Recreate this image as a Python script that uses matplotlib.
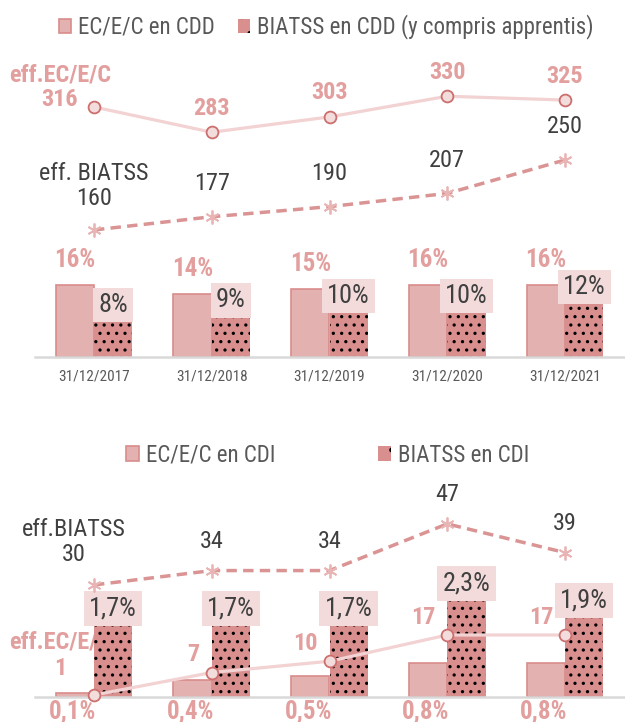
import numpy as np
import matplotlib
matplotlib.use("Agg")
import matplotlib.pyplot as plt
from matplotlib.patches import Patch
from matplotlib import font_manager as fm

# ---------------- data ----------------
dates = ["31/12/2017", "31/12/2018", "31/12/2019", "31/12/2020", "31/12/2021"]

cdd_ec_pct = [16, 14, 15, 16, 16]
cdd_bi_pct = [8, 9, 10, 10, 12]
cdd_ec_eff = [316, 283, 303, 330, 325]
cdd_bi_eff = [160, 177, 190, 207, 250]

cdi_ec_pct = [0.1, 0.4, 0.5, 0.8, 0.8]
cdi_bi_pct = [1.7, 1.7, 1.7, 2.3, 1.9]
cdi_ec_eff = [1, 7, 10, 17, 17]
cdi_bi_eff = [30, 34, 34, 47, 39]

# ---------------- style ----------------
names = {f.name for f in fm.fontManager.ttflist}
PREF = ["Liberation Sans Narrow", "Arial Narrow", "Roboto Condensed",
        "Archivo Narrow", "Liberation Sans", "DejaVu Sans"]
FAM = [f for f in PREF if f in names] or ["DejaVu Sans"]
plt.rcParams["font.family"] = FAM
plt.rcParams["hatch.linewidth"] = 1.15

EC_FILL = "#E3B1B0"
EC_EDGE = "#D98C8B"
BI_FILL = "#D98F8E"
BOX = "#F3DBDB"
PINK_TXT = "#E29F9E"
DARK = "#404040"
TICK = "#595959"
LINE_EC = "#F2D2D2"
MK_EDGE = "#CC6F6E"
MK_FILL = "#F3DCDC"
LINE_BI = "#DA9493"
AST = "#E8B5B4"
GRID = "#D9D9D9"

W = 0.325
x = np.arange(len(dates))

fig = plt.figure(figsize=(6.25, 7.22), dpi=100)


def panel(rect, ylim_bar, ylim_ec, ylim_bi, ec_pct, bi_pct, ec_eff, bi_eff,
          pct_fmt, top_chart):
    ax = fig.add_axes(rect)
    ax_ec = ax.twinx()
    ax_bi = ax.twinx()
    for a in (ax, ax_ec, ax_bi):
        for s in a.spines.values():
            s.set_visible(False)
        a.set_yticks([])
        a.patch.set_visible(False)
        a.set_xlim(-0.5, 4.5)
    ax.spines["bottom"].set_visible(True)
    ax.spines["bottom"].set_color(GRID)
    ax.spines["bottom"].set_linewidth(1.8)
    ax.set_ylim(*ylim_bar)
    ax_ec.set_ylim(*ylim_ec)
    ax_bi.set_ylim(*ylim_bi)

    # bars
    ax.bar(x - W / 2, ec_pct, W, color=EC_FILL, edgecolor=EC_EDGE,
           linewidth=1.2, zorder=2)
    ax.bar(x + W / 2, bi_pct, W, color=BI_FILL, edgecolor="none", zorder=2)
    ax.bar(x + W / 2, bi_pct, W, color="none", edgecolor="black",
           linewidth=0, hatch="..", zorder=2.1)

    # x ticks
    if top_chart:
        ax.set_xticks(x, dates, fontsize=11, color=TICK)
        ax.tick_params(axis="x", length=0, pad=9)
    else:
        ax.set_xticks([])

    # labels for bars
    for i in range(len(x)):
        ax.annotate(pct_fmt(bi_pct[i]), xy=(x[i] + W / 2, bi_pct[i]),
                    xytext=(0, 4), textcoords="offset pixels",
                    ha="center", va="bottom", fontsize=19, color=DARK,
                    bbox=dict(boxstyle="square,pad=0.2", fc=BOX, ec="none"),
                    zorder=3)
        if top_chart:
            ax.annotate(pct_fmt(ec_pct[i]), xy=(x[i] - W / 2, ec_pct[i]),
                        xytext=(0, 25), textcoords="offset pixels",
                        ha="center", va="center", fontsize=18,
                        fontweight="bold", color=PINK_TXT, zorder=3)
        else:
            ax.annotate(pct_fmt(ec_pct[i]), xy=(x[i] - W / 2, 0),
                        xytext=(-2, -14), textcoords="offset pixels",
                        ha="center", va="center", fontsize=18,
                        fontweight="bold", color=PINK_TXT,
                        annotation_clip=False, zorder=3)

    # lines
    ax_ec.plot(x, ec_eff, color=LINE_EC, lw=2.3, marker="o", ms=8.5,
               mfc=MK_FILL, mec=MK_EDGE, mew=1.3, clip_on=False, zorder=4)
    ax_bi.plot(x, bi_eff, color=LINE_BI, lw=2.5, dashes=(3, 1.8),
               marker=(6, 2, 0), ms=10, mec=AST, mew=1.3, clip_on=False,
               zorder=4)
    return ax, ax_ec, ax_bi


# ---------- top panel (CDD) ----------
top_rect = [35.1 / 625, 365 / 722, 588.8 / 625, 317 / 722]
ax, ax_ec, ax_bi = panel(top_rect, (0, 70.4), (-10.4, 403.4), (-3.3, 404.2),
                         cdd_ec_pct, cdd_bi_pct, cdd_ec_eff, cdd_bi_eff,
                         lambda v: f"{v:.0f}%", True)
for i in range(len(x)):
    if i == 0:
        txt, off = f"eff.EC/E/C\n{cdd_ec_eff[i]}", (-34, 20)
    else:
        txt, off = f"{cdd_ec_eff[i]}", (0, 24)
    ax.annotate(txt, xy=(x[i], cdd_ec_eff[i]), xycoords=ax_ec.transData,
                xytext=off, textcoords="offset pixels", ha="center",
                va="center", fontsize=17.5, fontweight="bold", color=PINK_TXT,
                linespacing=1.1, annotation_clip=False, zorder=1)
for i in range(len(x)):
    if i == 0:
        txt, off = f"eff. BIATSS\n{cdd_bi_eff[i]}", (0, 44)
    else:
        txt, off = f"{cdd_bi_eff[i]}", (0, 33)
    ax.annotate(txt, xy=(x[i], cdd_bi_eff[i]), xycoords=ax_bi.transData,
                xytext=off, textcoords="offset pixels", ha="center",
                va="center", fontsize=17.5, color=DARK, linespacing=1.1,
                annotation_clip=False, zorder=1)

# ---------- bottom panel (CDI) ----------
bot_rect = [35.1 / 625, 25 / 722, 588.8 / 625, 227 / 722]
bx, bx_ec, bx_bi = panel(bot_rect, (0, 5.34), (0.467, 61.0), (-1.2, 62.0),
                         cdi_ec_pct, cdi_bi_pct, cdi_ec_eff, cdi_bi_eff,
                         lambda v: f"{v:.1f}%".replace(".", ","), False)
for i in range(len(x)):
    if i == 0:
        txt, off, ha = f"eff.EC/E/C\n{cdi_ec_eff[i]}", (-34, 40), "center"
    else:
        txt, off, ha = f"{cdi_ec_eff[i]}", (-12, 18), "right"
    bx.annotate(txt, xy=(x[i], cdi_ec_eff[i]), xycoords=bx_ec.transData,
                xytext=off, textcoords="offset pixels", ha=ha,
                va="center", fontsize=17.5, fontweight="bold", color=PINK_TXT,
                linespacing=1.2, multialignment="center",
                annotation_clip=False, zorder=1)
for i in range(len(x)):
    if i == 0:
        txt, off = f"eff.BIATSS\n{cdi_bi_eff[i]}", (-20, 43)
    else:
        txt, off = f"{cdi_bi_eff[i]}", (0, 29)
    bx.annotate(txt, xy=(x[i], cdi_bi_eff[i]), xycoords=bx_bi.transData,
                xytext=off, textcoords="offset pixels", ha="center",
                va="center", fontsize=17.5, color=DARK, linespacing=1.1,
                annotation_clip=False, zorder=1)

# ---------- legends ----------
h_ec = Patch(facecolor=EC_FILL, edgecolor=EC_EDGE, linewidth=1.2)
h_bi = (Patch(facecolor=BI_FILL, edgecolor="none"),
        Patch(facecolor="none", edgecolor="black", linewidth=0, hatch="."))

fig.legend([h_ec, h_bi], ["EC/E/C en CDD", "BIATSS en CDD (y compris apprentis)"],
           loc="center", bbox_to_anchor=(0.522, 1 - 27 / 722), ncol=2,
           frameon=False, fontsize=16.5, handlelength=0.55, handleheight=0.6,
           handletextpad=0.3, columnspacing=1.0, labelcolor=TICK,
           borderpad=0)
fig.legend([h_ec, h_bi], ["EC/E/C en CDI", "BIATSS en CDI"],
           loc="center", bbox_to_anchor=(0.524, 1 - 455 / 722), ncol=2,
           frameon=False, fontsize=16.5, handlelength=0.55, handleheight=0.6,
           handletextpad=0.3, columnspacing=4.5, labelcolor=TICK,
           borderpad=0)

fig.savefig("out.png", dpi=100, facecolor="white")
